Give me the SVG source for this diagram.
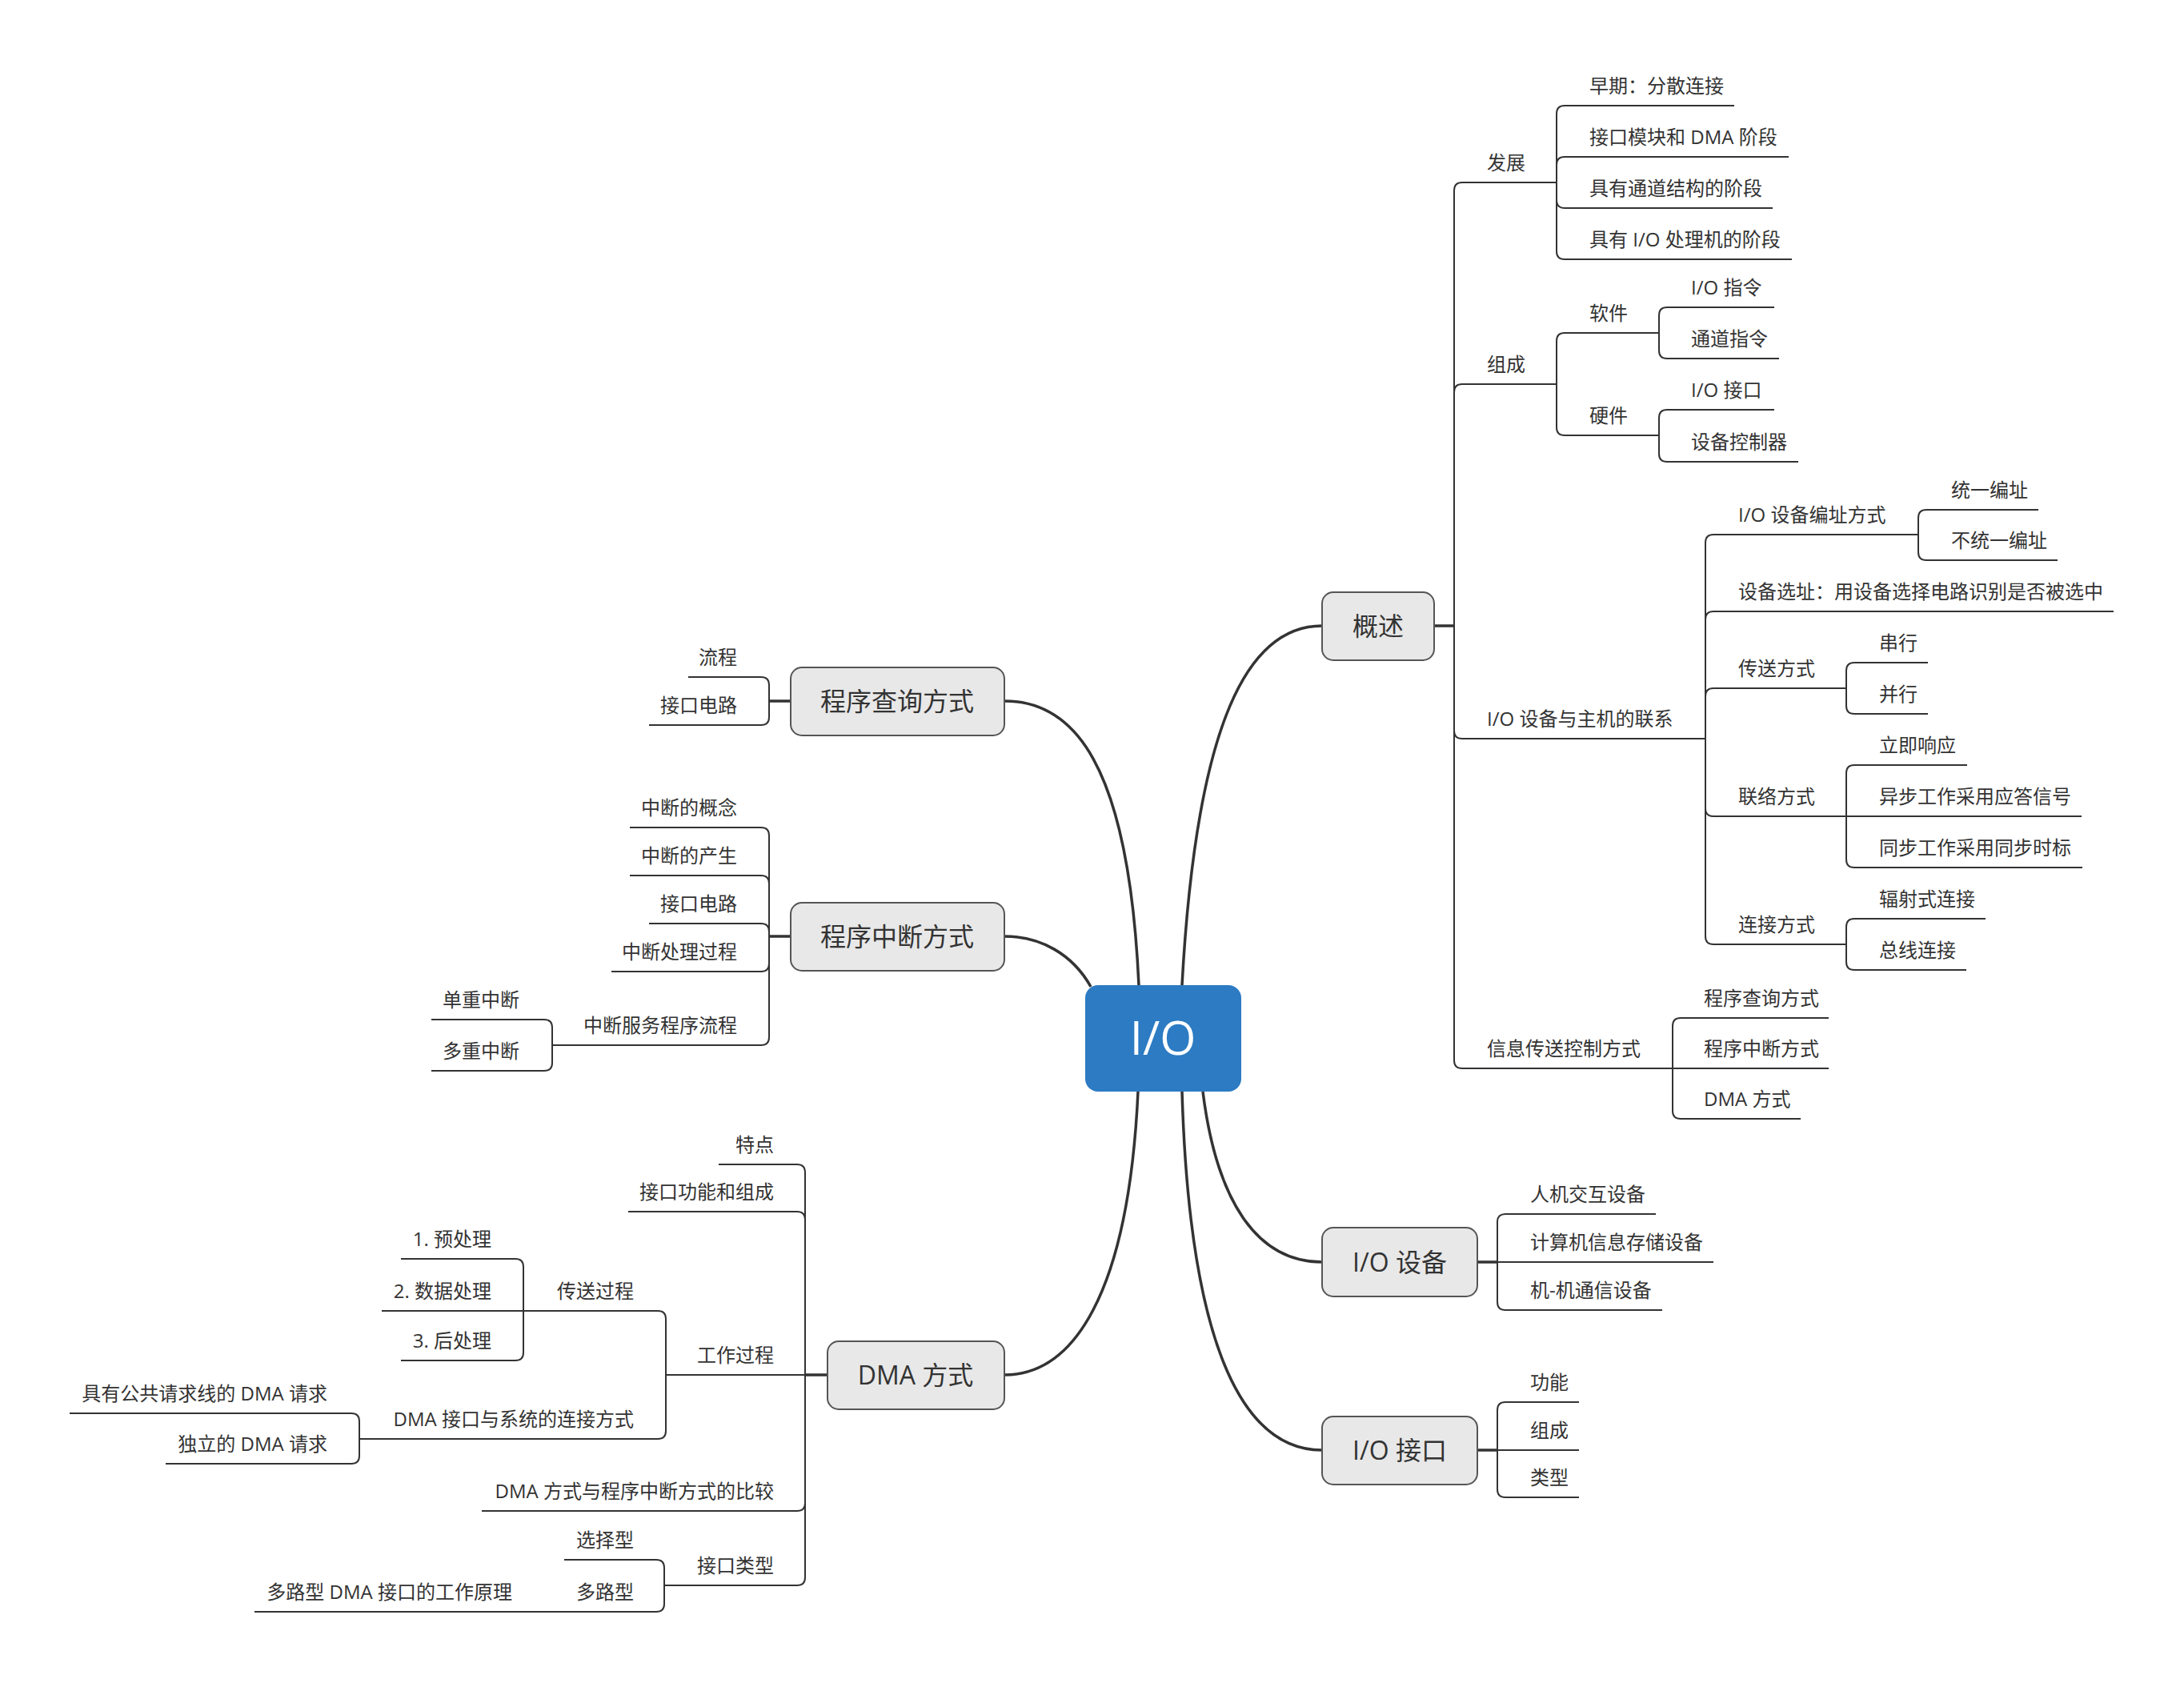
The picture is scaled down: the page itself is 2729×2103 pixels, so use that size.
<svg xmlns="http://www.w3.org/2000/svg" width="2729" height="2103" viewBox="0 0 2729 2103">
<style>
text{font-family:"Open Sans","Noto Sans CJK SC",sans-serif;fill:#333}
.t{font-size:24px}
.e{text-anchor:end}
.m{font-size:32px;text-anchor:middle}
.ln{fill:none;stroke:#333;stroke-width:2}
.stub{fill:none;stroke:#333;stroke-width:3.5}
.mc{fill:none;stroke:#333;stroke-width:3.5}
.node{fill:#E8E8E8;stroke:#555;stroke-width:2}
</style>
<rect width="2729" height="2103" fill="#fff"/>
<g id="connectors">
<path class="mc" d="M1477,1231 C1495,900 1560,782 1652,782"/>
<path class="mc" d="M1423,1231 C1410,950 1340,876 1255,876"/>
<path class="mc" d="M1363,1233 C1340,1192 1300,1170 1255,1170"/>
<path class="mc" d="M1422,1364 C1410,1620 1340,1718 1255,1718"/>
<path class="mc" d="M1503,1364 C1520,1500 1570,1577 1652,1577"/>
<path class="mc" d="M1477,1364 C1487,1700 1560,1812 1652,1812"/>
<path class="stub" d="M1791,782 H1817 M1846,1577 H1871 M1846,1812 H1871 M988,876 H961 M988,1170 H961 M1034,1718 H1006"/>
<path class="ln" d="M1817,782 V238 Q1817,228 1827,228 H1945 M1817,782 V490 Q1817,480 1827,480 H1945 M1817,782 V913 Q1817,923 1827,923 H2131 M1817,782 V1325 Q1817,1335 1827,1335 H2090"/>
<path class="ln" d="M1945,228 V142 Q1945,132 1955,132 H2167 M1945,228 V206 Q1945,196 1955,196 H2235 M1945,228 V250 Q1945,260 1955,260 H2215 M1945,228 V314 Q1945,324 1955,324 H2239"/>
<path class="ln" d="M1945,480 V426 Q1945,416 1955,416 H2073 M1945,480 V534 Q1945,544 1955,544 H2073"/>
<path class="ln" d="M2073,416 V394 Q2073,384 2083,384 H2217 M2073,416 V438 Q2073,448 2083,448 H2223 M2073,544 V522 Q2073,512 2083,512 H2217 M2073,544 V567 Q2073,577 2083,577 H2247"/>
<path class="ln" d="M2131,923 V678 Q2131,668 2141,668 H2397 M2131,923 V774 Q2131,764 2141,764 H2641 M2131,923 V870 Q2131,860 2141,860 H2307 M2131,923 V1010 Q2131,1020 2141,1020 H2307 M2131,923 V1170 Q2131,1180 2141,1180 H2307"/>
<path class="ln" d="M2397,668 V647 Q2397,637 2407,637 H2547 M2397,668 V690 Q2397,700 2407,700 H2571"/>
<path class="ln" d="M2307,860 V838 Q2307,828 2317,828 H2409 M2307,860 V882 Q2307,892 2317,892 H2409"/>
<path class="ln" d="M2307,1020 V966 Q2307,956 2317,956 H2458 M2307,1020 H2601 M2307,1020 V1074 Q2307,1084 2317,1084 H2602"/>
<path class="ln" d="M2307,1180 V1158 Q2307,1148 2317,1148 H2481 M2307,1180 V1202 Q2307,1212 2317,1212 H2457"/>
<path class="ln" d="M2090,1335 V1282 Q2090,1272 2100,1272 H2285 M2090,1335 H2285 M2090,1335 V1388 Q2090,1398 2100,1398 H2250"/>
<path class="ln" d="M1871,1577 V1527 Q1871,1517 1881,1517 H2069 M1871,1577 H2141 M1871,1577 V1627 Q1871,1637 1881,1637 H2077"/>
<path class="ln" d="M1871,1812 V1762 Q1871,1752 1881,1752 H1973 M1871,1812 H1973 M1871,1812 V1861 Q1871,1871 1881,1871 H1973"/>
<path class="ln" d="M961,876 V856 Q961,846 951,846 H860 M961,876 V896 Q961,906 951,906 H811"/>
<path class="ln" d="M961,1170 V1044 Q961,1034 951,1034 H787 M961,1170 V1104 Q961,1094 951,1094 H787 M961,1170 V1164 Q961,1154 951,1154 H811 M961,1170 V1204 Q961,1214 951,1214 H764 M961,1170 V1296 Q961,1306 951,1306 H690"/>
<path class="ln" d="M690,1306 V1284 Q690,1274 680,1274 H539 M690,1306 V1328 Q690,1338 680,1338 H539"/>
<path class="ln" d="M1006,1718 V1465 Q1006,1455 996,1455 H898 M1006,1718 V1524 Q1006,1514 996,1514 H785 M1006,1718 H832 M1006,1718 V1878 Q1006,1888 996,1888 H602 M1006,1718 V1971 Q1006,1981 996,1981 H830"/>
<path class="ln" d="M832,1718 V1648 Q832,1638 822,1638 H654 M832,1718 V1788 Q832,1798 822,1798 H449"/>
<path class="ln" d="M654,1638 V1583 Q654,1573 644,1573 H501 M654,1638 H477 M654,1638 V1690 Q654,1700 644,1700 H501"/>
<path class="ln" d="M449,1798 V1776 Q449,1766 439,1766 H87 M449,1798 V1819 Q449,1829 439,1829 H207"/>
<path class="ln" d="M830,1981 V1959 Q830,1949 820,1949 H705 M830,1981 V2004 Q830,2014 820,2014 H680 M680,2014 H318"/>
</g>
<g id="node-io">
<rect x="1356" y="1231" width="195" height="133" rx="16" fill="#2C7BC3"/>
<text x="1453" y="1318" style="font-size:58px;text-anchor:middle;fill:#fff">I/O</text>
</g>
<g id="node-gaishu"><rect class="node" x="1652" y="740" width="140" height="85" rx="14"/><text class="m" x="1722" y="794">概述</text></g>
<g id="node-iodevice"><rect class="node" x="1652" y="1534" width="194" height="86" rx="14"/><text class="m" x="1749" y="1589">I/O 设备</text></g>
<g id="node-iointerface"><rect class="node" x="1652" y="1770" width="194" height="85" rx="14"/><text class="m" x="1749" y="1824">I/O 接口</text></g>
<g id="node-query"><rect class="node" x="988" y="834" width="267" height="85" rx="14"/><text class="m" x="1121" y="888">程序查询方式</text></g>
<g id="node-interrupt"><rect class="node" x="988" y="1128" width="267" height="85" rx="14"/><text class="m" x="1121" y="1182">程序中断方式</text></g>
<g id="node-dma"><rect class="node" x="1034" y="1676" width="221" height="85" rx="14"/><text class="m" x="1144" y="1730">DMA 方式</text></g>
<g id="leaves-right" class="t">
<text class="t" x="1858" y="212">发展</text>
<text class="t" x="1858" y="464">组成</text>
<text class="t" x="1858" y="907">I/O 设备与主机的联系</text>
<text class="t" x="1858" y="1319">信息传送控制方式</text>
<text class="t" x="1986" y="116">早期：分散连接</text>
<text class="t" x="1986" y="180">接口模块和 DMA 阶段</text>
<text class="t" x="1986" y="244">具有通道结构的阶段</text>
<text class="t" x="1986" y="308">具有 I/O 处理机的阶段</text>
<text class="t" x="1986" y="400">软件</text>
<text class="t" x="1986" y="528">硬件</text>
<text class="t" x="2113" y="368">I/O 指令</text>
<text class="t" x="2113" y="432">通道指令</text>
<text class="t" x="2113" y="496">I/O 接口</text>
<text class="t" x="2113" y="561">设备控制器</text>
<text class="t" x="2172" y="652">I/O 设备编址方式</text>
<text class="t" x="2172" y="748">设备选址：用设备选择电路识别是否被选中</text>
<text class="t" x="2172" y="844">传送方式</text>
<text class="t" x="2172" y="1004">联络方式</text>
<text class="t" x="2172" y="1164">连接方式</text>
<text class="t" x="2438" y="621">统一编址</text>
<text class="t" x="2438" y="684">不统一编址</text>
<text class="t" x="2348" y="812">串行</text>
<text class="t" x="2348" y="876">并行</text>
<text class="t" x="2348" y="940">立即响应</text>
<text class="t" x="2348" y="1004">异步工作采用应答信号</text>
<text class="t" x="2348" y="1068">同步工作采用同步时标</text>
<text class="t" x="2348" y="1132">辐射式连接</text>
<text class="t" x="2348" y="1196">总线连接</text>
<text class="t" x="2129" y="1256">程序查询方式</text>
<text class="t" x="2129" y="1319">程序中断方式</text>
<text class="t" x="2129" y="1382">DMA 方式</text>
<text class="t" x="1912" y="1501">人机交互设备</text>
<text class="t" x="1912" y="1561">计算机信息存储设备</text>
<text class="t" x="1912" y="1621">机-机通信设备</text>
<text class="t" x="1912" y="1736">功能</text>
<text class="t" x="1912" y="1796">组成</text>
<text class="t" x="1912" y="1855">类型</text>
</g>
<g id="leaves-left">
<text class="t e" x="921" y="830">流程</text>
<text class="t e" x="921" y="890">接口电路</text>
<text class="t e" x="921" y="1018">中断的概念</text>
<text class="t e" x="921" y="1078">中断的产生</text>
<text class="t e" x="921" y="1138">接口电路</text>
<text class="t e" x="921" y="1198">中断处理过程</text>
<text class="t e" x="921" y="1290">中断服务程序流程</text>
<text class="t e" x="649" y="1258">单重中断</text>
<text class="t e" x="649" y="1322">多重中断</text>
<text class="t e" x="967" y="1439">特点</text>
<text class="t e" x="967" y="1498">接口功能和组成</text>
<text class="t e" x="967" y="1702">工作过程</text>
<text class="t e" x="967" y="1872">DMA 方式与程序中断方式的比较</text>
<text class="t e" x="967" y="1965">接口类型</text>
<text class="t e" x="792" y="1622">传送过程</text>
<text class="t e" x="792" y="1782">DMA 接口与系统的连接方式</text>
<text class="t e" x="614" y="1557">1. 预处理</text>
<text class="t e" x="614" y="1622">2. 数据处理</text>
<text class="t e" x="614" y="1684">3. 后处理</text>
<text class="t e" x="409" y="1750">具有公共请求线的 DMA 请求</text>
<text class="t e" x="409" y="1813">独立的 DMA 请求</text>
<text class="t e" x="792" y="1933">选择型</text>
<text class="t e" x="792" y="1998">多路型</text>
<text class="t e" x="640" y="1998">多路型 DMA 接口的工作原理</text>
</g>
</svg>
